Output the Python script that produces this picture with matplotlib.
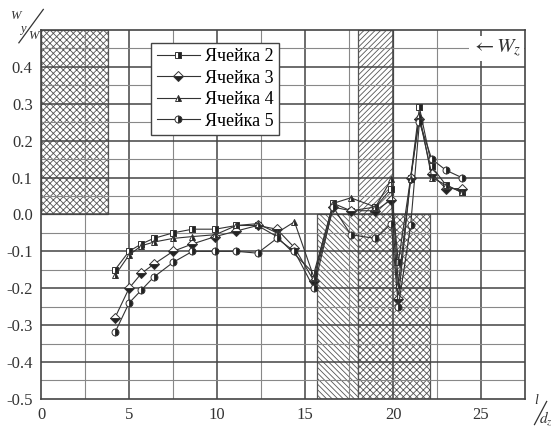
import matplotlib.pyplot as plt
from matplotlib.patches import Rectangle

plt.rcParams["font.family"] = ["Liberation Serif", "DejaVu Serif"]
plt.rcParams["mathtext.fontset"] = "stix"
plt.rcParams["hatch.linewidth"] = 0.6

# measured points, one list per cell
x_c2 = [4.2, 5.0, 5.7, 6.4, 7.5, 8.6, 9.9, 11.1, 12.3, 13.4, 15.5, 16.6, 17.6, 19.0, 19.9, 20.3, 21.0, 21.5, 22.2, 23.0, 23.9]
y_c2 = [-0.15, -0.10, -0.08, -0.065, -0.05, -0.04, -0.04, -0.03, -0.03, -0.06, -0.16, 0.03, 0.01, 0.02, 0.07, -0.13, 0.10, 0.29, 0.13, 0.08, 0.06]

x_c3 = [4.2, 5.0, 5.7, 6.4, 7.5, 8.6, 9.9, 11.1, 12.3, 13.4, 14.4, 15.5, 16.6, 17.6, 19.0, 19.9, 20.3, 21.0, 21.5, 22.2, 23.0, 23.9]
y_c3 = [-0.28, -0.20, -0.16, -0.135, -0.10, -0.08, -0.06, -0.045, -0.03, -0.04, -0.09, -0.18, 0.02, 0.01, 0.01, 0.04, -0.23, 0.10, 0.26, 0.11, 0.07, 0.07]

x_c4 = [4.2, 5.0, 5.7, 6.4, 7.5, 8.6, 9.9, 11.1, 12.3, 13.4, 14.4, 15.5, 16.6, 17.6, 19.0, 19.9, 20.3, 21.0, 21.5, 22.2, 23.0, 23.9]
y_c4 = [-0.165, -0.11, -0.085, -0.075, -0.065, -0.06, -0.055, -0.03, -0.025, -0.05, -0.02, -0.17, 0.03, 0.045, 0.02, 0.095, -0.19, 0.095, 0.27, 0.10, 0.08, 0.06]

x_c5 = [4.2, 5.0, 5.7, 6.4, 7.5, 8.6, 9.9, 11.1, 12.3, 13.4, 14.4, 15.5, 16.6, 17.6, 19.0, 19.9, 20.3, 21.0, 21.5, 22.2, 23.0, 23.9]
y_c5 = [-0.32, -0.24, -0.205, -0.17, -0.13, -0.10, -0.10, -0.10, -0.105, -0.065, -0.10, -0.20, 0.02, -0.055, -0.065, -0.025, -0.25, -0.03, 0.25, 0.15, 0.12, 0.10]

series = [
    ("Ячейка 2", x_c2, y_c2, "s"),
    ("Ячейка 3", x_c3, y_c3, "D"),
    ("Ячейка 4", x_c4, y_c4, "^"),
    ("Ячейка 5", x_c5, y_c5, "o"),
]

# hatched zones: (x0, x1, y0, y1, hatch)
zones = [
    (0.0, 3.8, 0.0, 0.5, "xxxxx"),
    (18.0, 20.0, 0.0, 0.5, "//////"),
    (15.7, 18.0, -0.5, 0.0, "\\\\\\\\\\\\"),
    (18.0, 22.1, -0.5, 0.0, "xxxxx"),
]

fig = plt.figure(figsize=(5.55, 4.28), dpi=100)
ax = fig.add_axes([0.074, 0.068, 0.872, 0.862])
ax.set_xlim(0, 27.5)
ax.set_ylim(-0.5, 0.5)

for x0, x1, y0, y1, h in zones:
    ax.add_patch(Rectangle((x0, y0), x1 - x0, y1 - y0, facecolor="white",
                           edgecolor="#555555", hatch=h, linewidth=0.9, zorder=0.5))

# grid: heavier lines on major steps
for i in range(1, 11):
    xv = i * 2.5
    major = i % 2 == 0
    ax.axvline(xv, color="#444444" if major else "#888888",
               lw=1.1 if major else 0.8, zorder=1)
for i in range(1, 20):
    yv = -0.5 + i * 0.05
    major = i % 2 == 0
    ax.axhline(yv, color="#444444" if major else "#888888",
               lw=1.1 if major else 0.8, zorder=1)

for label, xs, ys, m in series:
    fs = "bottom" if m == "D" else "right"
    ax.plot(xs, ys, color="#333333", lw=0.8, marker=m, ms=5 if m != "D" else 4.8,
            fillstyle=fs, markerfacecolor="#222222", markerfacecoloralt="white",
            markeredgecolor="#333333", markeredgewidth=0.7, label=label, zorder=3)

ax.set_xticks([0, 5, 10, 15, 20, 25])
ax.set_yticks([-0.5, -0.4, -0.3, -0.2, -0.1, 0.0, 0.1, 0.2, 0.3, 0.4])
ax.set_yticklabels(["-0.5", "-0.4", "-0.3", "-0.2", "-0.1", "0.0", "0.1", "0.2", "0.3", "0.4"])
ax.tick_params(length=0, labelsize=12, colors="#333333", pad=6)
for s in ax.spines.values():
    s.set_color("#444444")
    s.set_linewidth(1.2)

leg = ax.legend(loc="upper left", bbox_to_anchor=(0.209, 0.99), fontsize=13,
                frameon=True, fancybox=False, handlelength=2.4, borderpad=0.3,
                labelspacing=0.25, handletextpad=0.3)
leg.get_frame().set_edgecolor("#444444")
leg.get_frame().set_linewidth(1.0)
leg.get_frame().set_alpha(1)
leg.set_zorder(5)

# free-stream direction marker
ax.text(27.3, 0.45, r"$\leftarrow W_z$", ha="right", va="center", fontsize=15,
        color="#333333", bbox=dict(facecolor="white", edgecolor="none", pad=1.5), zorder=4)

# axis labels as slanted fractions
fig.text(0.018, 0.955, "W", fontsize=9, style="italic", color="#333333")
fig.text(0.036, 0.925, "y", fontsize=9, style="italic", color="#333333")
fig.text(0.05, 0.91, "W", fontsize=9, style="italic", color="#333333")
fig.add_artist(plt.Line2D([0.034, 0.078], [0.9, 0.978], color="#333333", lw=0.9))

fig.text(0.962, 0.055, "l", fontsize=10, style="italic", color="#333333")
fig.add_artist(plt.Line2D([0.963, 0.985], [0.008, 0.062], color="#333333", lw=0.9))
fig.text(0.972, 0.014, r"$d_z$", fontsize=11, color="#333333")

fig.savefig("out.png", dpi=100)
